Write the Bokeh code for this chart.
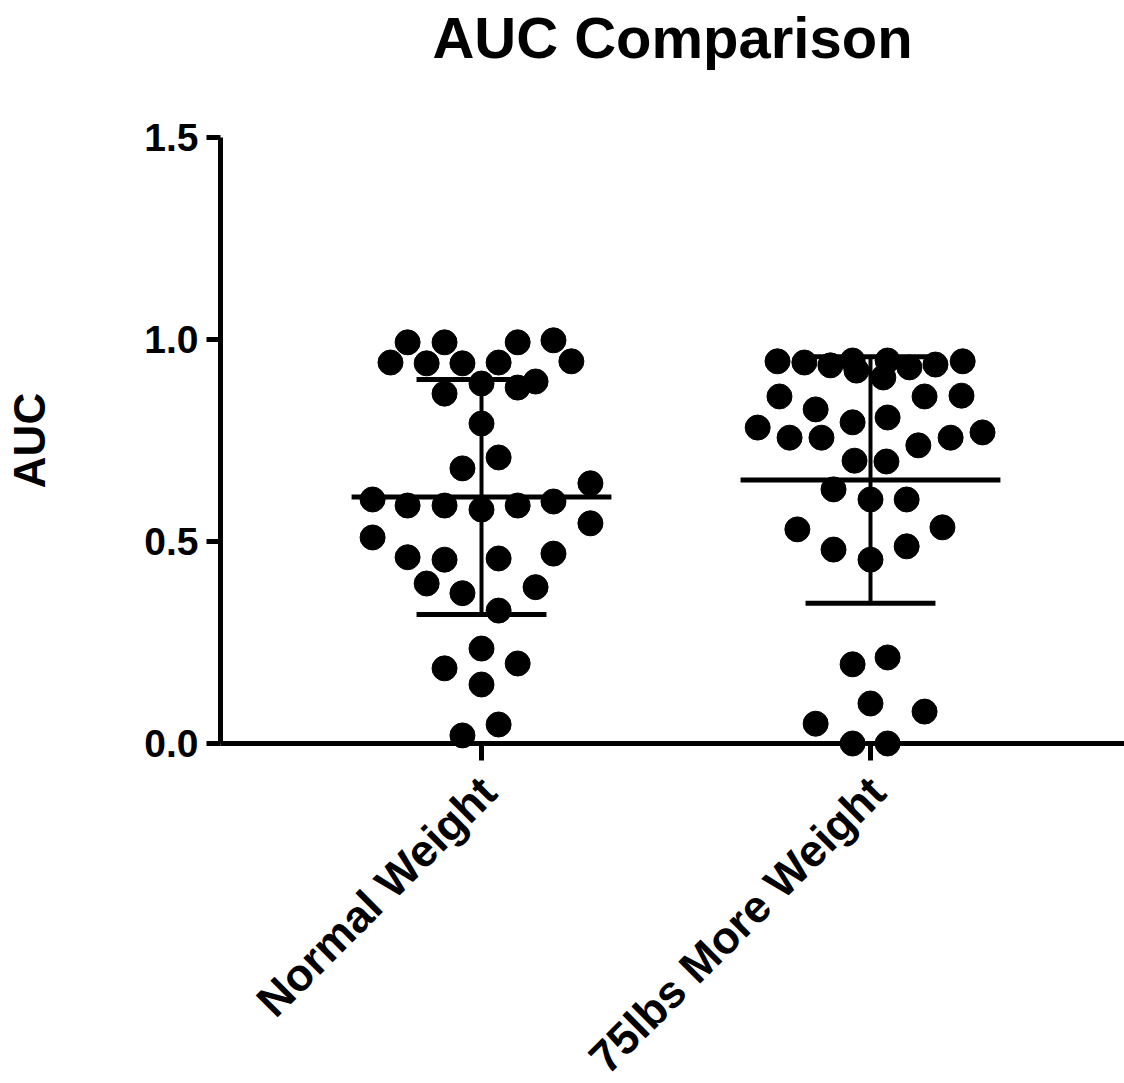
import math
from bokeh.plotting import figure
from bokeh.models import Range1d, FixedTicker, Title
from bokeh.core.properties import value
from bokeh.embed import file_html
from bokeh.resources import INLINE

# ---- data ----
title_text = "AUC Comparison"
categories = ["Normal Weight", "75lbs More Weight"]
cat_pos = [1, 2]

normal_offsets = [-0.190, -0.095, 0.093, 0.185,
                  -0.234, -0.141, -0.049, 0.044, 0.231,
                  0.000, 0.139, 0.093, -0.095,
                  0.000, 0.044, -0.049, 0.280,
                  -0.280, -0.190, -0.095, 0.000, 0.093, 0.185, 0.280,
                  -0.280, -0.190, -0.095, 0.044, 0.185,
                  -0.141, -0.049, 0.139, 0.044,
                  0.000, -0.095, 0.093, 0.000, 0.044, -0.049]
normal_values = [0.993, 0.993, 0.993, 0.998,
                 0.943, 0.941, 0.941, 0.943, 0.946,
                 0.891, 0.896, 0.881, 0.866,
                 0.792, 0.708, 0.681, 0.644,
                 0.604, 0.589, 0.589, 0.579, 0.589, 0.599, 0.545,
                 0.510, 0.461, 0.455, 0.458, 0.470,
                 0.396, 0.372, 0.387, 0.329,
                 0.235, 0.186, 0.198, 0.146, 0.047, 0.020]

heavy_offsets = [-0.239, -0.170, -0.103, -0.046, -0.036, 0.044, 0.033, 0.100, 0.167, 0.237,
                 -0.234, -0.141, 0.139, 0.234,
                 -0.290, -0.208, -0.126, -0.046, 0.044, 0.123, 0.206, 0.288,
                 -0.041, 0.041,
                 -0.095, 0.000, 0.093,
                 -0.188, 0.185,
                 -0.095, 0.000, 0.093,
                 -0.046, 0.044, 0.000, -0.141, 0.139, -0.046, 0.044]
heavy_values = [0.946, 0.943, 0.936, 0.948, 0.923, 0.948, 0.906, 0.931, 0.938, 0.946,
                0.859, 0.827, 0.859, 0.861,
                0.782, 0.757, 0.757, 0.795, 0.807, 0.738, 0.757, 0.770,
                0.700, 0.698,
                0.629, 0.604, 0.604,
                0.530, 0.535,
                0.480, 0.455, 0.488,
                0.196, 0.213, 0.099, 0.049, 0.079, 0.000, 0.000]

means = [0.610, 0.652]
sds = [0.291, 0.305]

y_ticks = [0.0, 0.5, 1.0, 1.5]
y_tick_labels = ["0.0", "0.5", "1.0", "1.5"]

# ---- figure ----
FONT = "Liberation Sans"
X0, X1 = 0.329, 2.653
Y0, Y1 = 0.0, 1.5
p = figure(frame_width=904, frame_height=606,
           x_range=Range1d(X0, X1), y_range=Range1d(Y0, Y1),
           output_backend="svg", toolbar_location=None,
           min_border_left=220, min_border_right=0,
           min_border_top=0, min_border_bottom=339)
p.outline_line_color = None
p.grid.visible = False
p.background_fill_color = "white"
p.border_fill_color = "white"

# title: a thin spacer next to the frame, the real title above it
p.title = None
p.add_layout(Title(text=" ", text_font_size="10px", standoff=53, text_color="white"), "above")
p.add_layout(Title(text=title_text, align="center", text_font=FONT,
                   text_font_size="58px", text_font_style="bold", text_color="black",
                   standoff=4), "above")

# points
xs_n = [cat_pos[0] + o for o in normal_offsets]
xs_h = [cat_pos[1] + o for o in heavy_offsets]
p.scatter(xs_n, normal_values, size=25, color="black", level="overlay")
p.scatter(xs_h, heavy_values, size=25, color="black", level="overlay")

# mean and SD bars
mean_half = 0.334
cap_half = 0.167
for c, m, s in zip(cat_pos, means, sds):
    p.segment(x0=[c - mean_half], y0=[m], x1=[c + mean_half], y1=[m], line_color="black", line_width=5)
    p.segment(x0=[c], y0=[m - s], x1=[c], y1=[m + s], line_color="black", line_width=4)
    p.segment(x0=[c - cap_half, c - cap_half], y0=[m - s, m + s],
              x1=[c + cap_half, c + cap_half], y1=[m - s, m + s], line_color="black", line_width=5)

# axes
for ax in (p.xaxis[0], p.yaxis[0]):
    ax.axis_line_width = 5
    ax.axis_line_color = "black"
    ax.major_tick_line_width = 5
    ax.major_tick_line_color = "black"
    ax.major_tick_in = 0
    ax.minor_tick_line_color = None
    ax.major_label_text_font = FONT
    ax.major_label_text_font_style = "bold"
    ax.major_label_text_color = "black"

p.yaxis.ticker = FixedTicker(ticks=y_ticks)
p.yaxis.major_label_overrides = {t: l for t, l in zip(y_ticks, y_tick_labels)}
p.yaxis.major_label_text_font_size = "39px"
p.yaxis.major_tick_out = 14
p.yaxis.major_label_standoff = 8
p.yaxis.axis_label = "AUC"
p.yaxis.axis_label_text_font = FONT
p.yaxis.axis_label_text_font_size = "44px"
p.yaxis.axis_label_text_font_style = "bold"
p.yaxis.axis_label_text_color = "black"
p.yaxis.axis_label_standoff = 87

p.xaxis.ticker = FixedTicker(ticks=cat_pos)
p.xaxis.major_tick_out = 17
p.xaxis.major_label_text_font_size = "0px"
p.xaxis.major_label_overrides = {c: "" for c in cat_pos}

# rotated category labels, anchored under each tick
p.text(x=cat_pos, y=[Y0] * len(cat_pos), text=categories, angle=math.pi / 4,
       y_offset=41, x_offset=7, text_align="right", text_baseline="middle",
       text_font=value(FONT), text_font_size="45px", text_font_style="bold",
       text_color="black", level="overlay")

open("out.html", "w").write(file_html(p, INLINE))
